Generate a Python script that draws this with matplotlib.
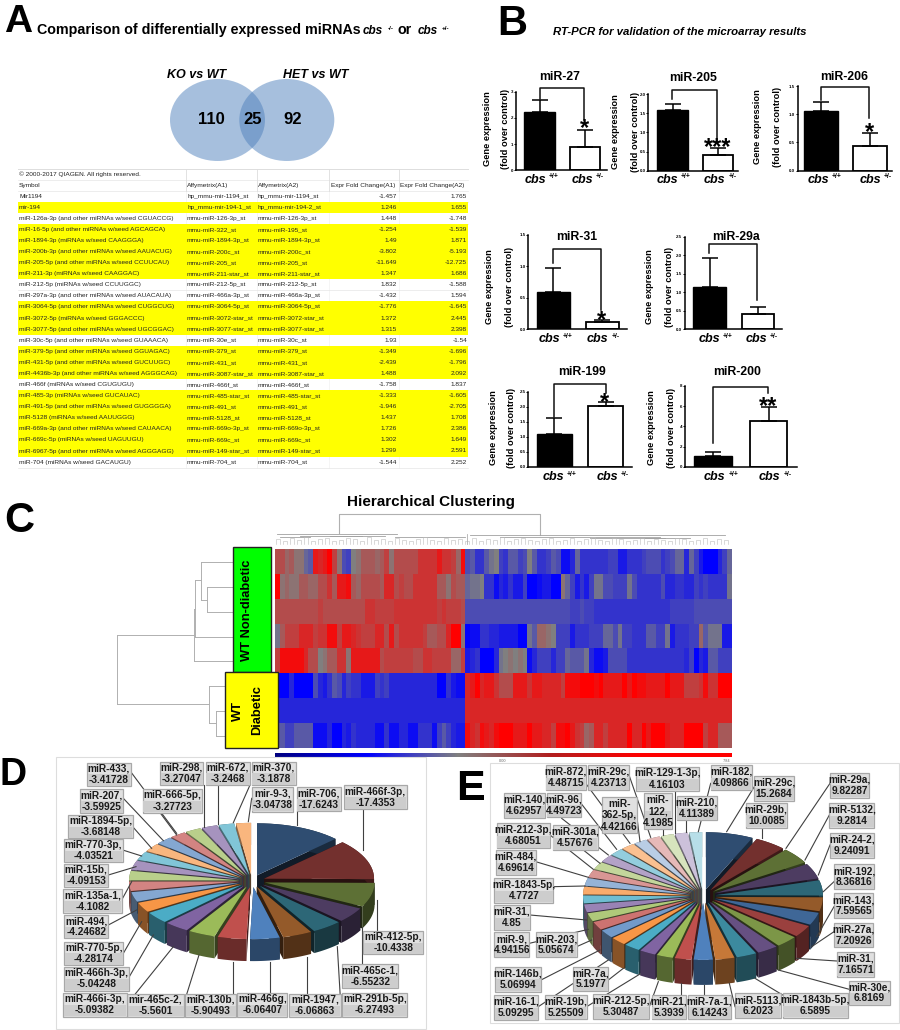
import numpy as np
import matplotlib
matplotlib.use("Agg")
import matplotlib.pyplot as plt
from matplotlib.colors import LinearSegmentedColormap, to_rgb
from matplotlib.patches import Ellipse, Polygon, Rectangle

plt.rcParams['font.family'] = ['Liberation Sans', 'DejaVu Sans']

W, H = 900, 1030

# ---- panel A table
SYMBOLS = ["© 2000-2017 QIAGEN. All rights reserved.", "Symbol", "Mir1194", "mir-194",
           "miR-126a-3p (and other miRNAs w/seed CGUACCG)", "miR-16-5p (and other miRNAs w/seed AGCAGCA)",
           "miR-1894-3p (miRNAs w/seed CAAGGGA)", "miR-200b-3p (and other miRNAs w/seed AAUACUG)",
           "miR-205-5p (and other miRNAs w/seed CCUUCAU)", "miR-211-3p (miRNAs w/seed CAAGGAC)",
           "miR-212-5p (miRNAs w/seed CCUUGGC)", "miR-297a-3p (and other miRNAs w/seed AUACAUA)",
           "miR-3064-5p (and other miRNAs w/seed CUGGCUG)", "miR-3072-5p (miRNAs w/seed GGGACCC)",
           "miR-3077-5p (and other miRNAs w/seed UGCGGAC)", "miR-30c-5p (and other miRNAs w/seed GUAAACA)",
           "miR-379-5p (and other miRNAs w/seed GGUAGAC)", "miR-431-5p (and other miRNAs w/seed GUCUUGC)",
           "miR-4436b-3p (and other miRNAs w/seed AGGGCAG)", "miR-466f (miRNAs w/seed CGUGUGU)",
           "miR-485-3p (miRNAs w/seed GUCAUAC)", "miR-491-5p (and other miRNAs w/seed GUGGGGA)",
           "miR-5128 (miRNAs w/seed AAUUGGG)", "miR-669a-3p (and other miRNAs w/seed CAUAACA)",
           "miR-669c-5p (miRNAs w/seed UAGUUGU)", "miR-6967-5p (and other miRNAs w/seed AGGGAGG)",
           "miR-704 (miRNAs w/seed GACAUGU)"]
PROBE_A1 = ["", "Affymetrix(A1)", "hp_mmu-mir-1194_st", "hp_mmu-mir-194-1_st", "mmu-miR-126-3p_st", "mmu-miR-322_st",
            "mmu-miR-1894-3p_st", "mmu-miR-200c_st", "mmu-miR-205_st", "mmu-miR-211-star_st", "mmu-miR-212-5p_st",
            "mmu-miR-466a-3p_st", "mmu-miR-3064-5p_st", "mmu-miR-3072-star_st", "mmu-miR-3077-star_st", "mmu-miR-30e_st",
            "mmu-miR-379_st", "mmu-miR-431_st", "mmu-miR-3087-star_st", "mmu-miR-466f_st", "mmu-miR-485-star_st",
            "mmu-miR-491_st", "mmu-miR-5128_st", "mmu-miR-669o-3p_st", "mmu-miR-669c_st", "mmu-miR-149-star_st",
            "mmu-miR-704_st"]
PROBE_A2 = ["", "Affymetrix(A2)", "hp_mmu-mir-1194_st", "hp_mmu-mir-194-2_st", "mmu-miR-126-3p_st", "mmu-miR-195_st",
            "mmu-miR-1894-3p_st", "mmu-miR-200c_st", "mmu-miR-205_st", "mmu-miR-211-star_st", "mmu-miR-212-5p_st",
            "mmu-miR-466a-3p_st", "mmu-miR-3064-5p_st", "mmu-miR-3072-star_st", "mmu-miR-3077-star_st", "mmu-miR-30c_st",
            "mmu-miR-379_st", "mmu-miR-431_st", "mmu-miR-3087-star_st", "mmu-miR-466f_st", "mmu-miR-485-star_st",
            "mmu-miR-491_st", "mmu-miR-5128_st", "mmu-miR-669o-3p_st", "mmu-miR-669c_st", "mmu-miR-149-star_st",
            "mmu-miR-704_st"]
FOLD_A1 = ["", "Expr Fold Change(A1)", "-1.457", "1.246", "1.448", "-1.254", "1.49", "-3.802", "-11.649", "1.347", "1.832",
           "-1.432", "-1.776", "1.372", "1.315", "1.93", "-1.349", "-2.439", "1.488", "-1.758", "-1.333", "-1.946", "1.437",
           "1.726", "1.302", "1.299", "-1.544"]
FOLD_A2 = ["", "Expr Fold Change(A2)", "1.765", "1.655", "-1.748", "-1.539", "1.871", "-5.193", "-12.725", "1.686", "-1.588",
           "1.594", "-1.645", "2.445", "2.398", "-1.54", "-1.696", "-1.796", "2.092", "1.837", "-1.605", "-2.705", "1.708",
           "2.386", "1.649", "2.591", "2.252"]
HIGHLIGHTED = [3, 5, 6, 7, 8, 9, 12, 13, 14, 16, 17, 18, 20, 21, 22, 23, 24, 25]

VENN_COUNTS = ["110", "25", "92"]

# ---- panel B bars
PANEL_NAMES = ["miR-27", "miR-205", "miR-206", "miR-31", "miR-29a", "miR-199", "miR-200"]
WT_MEAN = [2.24, 1.60, 1.06, 0.60, 1.15, 1.10, 1.10]
WT_TOP = [2.70, 1.75, 1.22, 0.97, 1.93, 1.64, 1.50]
HET_MEAN = [0.89, 0.40, 0.44, 0.12, 0.41, 2.03, 4.50]
HET_TOP = [1.54, 0.585, 0.67, 0.14, 0.59, 2.17, 5.90]
Y_TICKS = [[0, 1, 2, 3], [0, .5, 1, 1.5, 2], [0, .5, 1, 1.5], [0, .5, 1, 1.5], [0, .5, 1, 1.5, 2, 2.5],
           [0, .5, 1, 1.5, 2, 2.5], [0, 2, 4, 6, 8]]
STARS = ["*", "***", "*", "*", "", "*", "**"]

# ---- panel C heatmap, -10 full blue, 0 grey, 10 full red
HEAT_ROWS = [
    [4,4,2,3,1,1,-2,-3,8,7,8,10,5,1,-4,-5,0,1,3,3,3,2,3,5,1,4,4,4,4,4,6,6,6,6,8,6,6,5,2,9,
     -4,-3,-6,-6,-3,-1,0,-5,-6,-3,-3,-5,-4,0,-3,-6,-6,-5,-3,-4,-9,-9,-7,-2,-6,-6,-6,-6,-6,-6,-5,-5,-8,-8,-6,-6,-6,-5,-4,-4,-4,-6,-5,-4,-2,-2,-7,-2,-5,-8,-10,-10,-10,-7,-5,-2],
    [10,1,2,1,1,3,3,2,2,4,4,6,3,8,8,9,3,2,4,4,4,4,3,7,7,4,5,4,4,6,6,6,6,6,3,3,1,4,3,3,
     -2,-1,-1,0,-6,-6,-9,-7,-8,-6,-8,-8,-5,-10,-10,-9,-8,-8,-10,-10,1,-2,-5,-8,-6,-8,-5,-1,-1,-4,-4,-5,-5,-5,-1,-4,-6,-6,-6,-6,-6,-4,-7,-7,-6,-6,-7,-7,-5,-6,-5,-6,-6,-6,-6,-1],
    [4,4,4,4,4,4,4,4,4,5,4,4,4,4,4,4,4,4,4,6,6,5,5,5,5,6,6,6,6,6,6,6,6,6,5,6,5,5,5,4,
     -4,-4,-4,-4,-4,-4,-4,-4,-4,-4,-4,-4,-4,-4,-4,-4,-4,-4,-4,-4,-4,-4,-5,-5,-4,-5,-5,-6,-6,-6,-6,-6,-6,-6,-6,-6,-6,-6,-6,-6,-6,-6,-6,-5,-5,-5,-5,-5,-4,-4,-4,-4,-4,-4,-4,-4],
    [-1,3,5,5,5,7,7,7,5,6,6,9,9,5,8,8,7,6,5,5,5,7,7,4,8,4,6,6,6,6,6,5,3,3,4,4,7,10,10,1,
     -10,-9,-9,-6,-6,-7,-7,-8,-8,-8,-8,-10,-10,-1,-3,2,2,1,0,-5,-5,-5,-8,-6,-6,-6,-5,-5,-5,-2,-2,-4,-1,-5,-5,-6,-6,-6,-3,-3,-5,-5,-1,-8,-6,-6,-6,-5,-5,2,-3,-1,-1,-1,-8,-8],
    [5,9,9,9,9,9,7,4,4,0,1,3,3,6,6,1,8,8,8,8,8,8,4,5,5,5,5,5,5,4,4,6,6,5,5,5,5,2,2,5,
     -8,-7,-6,-10,-10,-10,-7,-1,0,1,0,1,0,-9,-7,-5,-5,-5,-7,-5,-5,-2,-3,-3,-3,-1,-7,-9,-9,-8,-4,-4,-4,-4,-6,-6,-6,-6,-6,-6,-6,-6,-6,-6,-6,-6,-7,-5,-10,-7,-8,-3,-3,-5,-5,-5],
    [-10,-10,-10,-7,-10,-10,-10,-10,-4,-7,-8,-6,-3,-4,-7,-5,-6,-6,-8,-8,-8,-5,-6,-5,-7,-7,-7,-7,-7,-7,-7,-7,-7,-7,-10,-10,-6,-8,-9,-9,
     7,8,10,7,8,8,6,4,4,4,8,8,8,6,8,8,7,7,7,7,5,9,9,9,10,10,10,9,10,8,8,8,8,10,8,10,9,9,8,8,8,8,10,8,8,8,5,5,5,6,9,6,6,10,10,10],
    [-7,-7,-7,-7,-7,-7,-7,-7,-7,-7,-7,-7,-7,-7,-7,-7,-7,-7,-7,-7,-7,-7,-7,-7,-7,-7,-7,-7,-7,-7,-7,-7,-7,-7,-7,-7,-7,-7,-7,-7,
     7,7,7,7,7,7,7,7,7,7,7,7,7,7,7,7,7,7,7,7,7,7,7,7,7,7,7,7,7,7,7,7,7,7,7,7,7,7,7,7,7,7,7,7,7,7,7,7,7,7,7,7,7,7,7,7],
    [-3,-3,-5,-5,-3,-3,-3,-3,-9,-9,-9,-7,-10,-10,-7,-8,-6,-7,-7,-7,-7,-9,-9,-6,-9,-9,-7,-7,-9,-9,-6,-6,-6,-9,-5,-3,-5,-7,-8,-8,
     9,7,6,9,8,7,9,10,10,10,8,8,8,10,8,8,7,7,5,9,9,10,8,6,5,2,3,7,7,5,7,7,7,7,10,7,7,10,8,10,10,10,8,7,7,7,10,10,10,10,5,7,7,3,3,3],
]
TOP_TREE_HEIGHTS = [539, 541, 538, 540, 537, 541, 539, 538, 541, 540, 538, 539, 541, 537, 540, 539, 541, 538, 540, 541,
                    539, 537, 540, 541, 538, 540, 539, 541, 538, 541, 539, 540, 537, 541, 539, 538, 540, 541, 539, 538,
                    541, 540, 538, 541, 539, 537, 540, 541, 538, 539, 541, 540, 538, 541, 539, 540, 541, 538, 539, 541,
                    540, 538, 541, 539, 540]
BAR_TICK_LABELS = ["0.00", "7.84"]

# ---- panels D and E pies, clockwise from the top
D_NAMES = ["miR-706", "miR-466f-3p", "miR-412-5p", "miR-465c-1", "miR-291b-5p", "miR-1947", "miR-466g", "miR-130b",
           "mir-465c-2", "miR-466i-3p", "miR-466h-3p", "miR-770-5p", "miR-494", "miR-135a-1", "miR-15b", "miR-770-3p",
           "miR-1894-5p", "miR-207", "miR-433", "miR-666-5p", "miR-298", "miR-672", "miR-370", "mir-9-3"]
D_VALUES = [-17.6243, -17.4353, -10.4338, -6.55232, -6.27493, -6.06863, -6.06407, -5.90493, -5.5601, -5.09382, -5.04248,
            -4.28174, -4.24682, -4.1082, -4.09153, -4.03521, -3.68148, -3.59925, -3.41728, -3.27723, -3.27047, -3.2468,
            -3.1878, -3.04738]
E_NAMES = ["miR-29c", "miR-29b", "miR-29a", "miR-5132", "miR-24-2", "miR-192", "miR-143", "miR-27a", "miR-31", "miR-30e",
           "miR-1843b-5p", "miR-5113", "miR-7a-1", "miR-21", "miR-212-5p", "miR-19b", "miR-7a", "miR-16-1", "miR-146b",
           "miR-203", "miR-9", "miR-31", "miR-1843-5p", "miR-484", "miR-212-3p", "miR-140", "miR-301a", "miR-96", "miR-872",
           "miR-\n362-5p", "miR-29c", "miR-\n122", "miR-129-1-3p", "miR-210", "miR-182"]
E_VALUES = [15.2684, 10.0085, 9.82287, 9.2814, 9.24091, 8.36816, 7.59565, 7.20926, 7.16571, 6.8169, 6.5895, 6.2023, 6.14243,
            5.3939, 5.30487, 5.25509, 5.1977, 5.09295, 5.06994, 5.05674, 4.94156, 4.85, 4.7727, 4.69614, 4.68051, 4.62957,
            4.57676, 4.49723, 4.48715, 4.42166, 4.23713, 4.1985, 4.16103, 4.11389, 4.09866]
PIE_BASE = ['#4F81BD', '#C0504D', '#9BBB59', '#8064A2', '#4BACC6', '#F79646']

# layout, pixel coordinates of the picture ---------------------------------
COLS_X = [186, 257, 329, 399]
PANEL_BOX = [(515.7, 606.7, 91.7, 170.3), (648.3, 737.7, 94.3, 170.7), (797.7, 891.7, 86, 170.7), (528.3, 626.7, 235, 329.3),
             (685, 782.3, 236.7, 329.3), (528.3, 632.3, 391.7, 467), (685, 796.7, 385.7, 467)]
BAR_X = [(539.7, 585, 30.5), (672.5, 717.7, 30.3), (821, 870, 33.3), (553.3, 602.2, 33), (709.7, 758, 32.7), (554.2, 605.8, 35),
         (712.8, 768.7, 37.5)]
TITLE_XY = [(560, 77), (693, 78), (844, 77), (577, 237), (736, 237), (582, 372), (737, 372)]
YLABEL_XY = [(487, 506, 129), (615, 635, 132), (757, 778, 127), (490, 510, 287), (650, 670, 287), (493, 512, 428), (652, 671, 428)]
BRACKET = [(539.7, 99, 88.3, 584.3, 120), (672, 99, 90, 717.3, 140), (820.7, 100, 87.3, 869, 118), (552.7, 263.3, 249, 601.3, 310),
           (709.3, 253, 244.3, 757.3, 300), (554, 416.7, 384, 605.7, 393), (712.7, 443, 387.3, 768.3, 393)]
STAR_XY = [(584.3, 124), (718, 143), (869.3, 128), (601.3, 316), (0, 0), (605, 398), (768.3, 402)]
CBS_XY = [(535, 554, 582, 600, 180), (667, 686, 714, 733, 180), (818, 837, 870, 888, 180), (549, 568, 597, 616, 339),
          (709, 728, 756, 774, 339), (553, 572, 607, 625, 477), (714, 734, 769, 788, 477)]

# label box corners and leader lines, in 3x crop coordinates
D_BOX = [(890, 112, 1022, 183), (1032, 105, 1220, 178), (1090, 543, 1270, 613), (1027, 643, 1195, 715), (1027, 728, 1222, 800),
         (867, 733, 1022, 800), (712, 728, 862, 800), (555, 733, 708, 800), (382, 733, 552, 800), (190, 728, 380, 800),
         (192, 650, 388, 722), (192, 575, 370, 645), (192, 495, 325, 565), (190, 418, 365, 488), (192, 342, 325, 410),
         (192, 267, 368, 337), (205, 195, 398, 265), (240, 118, 370, 190), (262, 38, 392, 108), (428, 118, 605, 188),
         (480, 35, 610, 105), (617, 35, 750, 105), (755, 35, 887, 105), (755, 112, 880, 185)]
D_LEAD = [(890, 183, 890, 225), (1088, 178, 1088, 300), (1130, 543, 1130, 450), (1085, 643, 1085, 530), (1022, 760, 1012, 590),
          (920, 733, 920, 620), (810, 728, 810, 635), (698, 733, 698, 635), (560, 733, 597, 615), (405, 733, 520, 590),
          (388, 680, 460, 555), (370, 610, 425, 515), (325, 525, 410, 480), (365, 450, 395, 395), (325, 375, 408, 350),
          (368, 300, 425, 318), (398, 230, 455, 295), (370, 145, 490, 272), (392, 65, 530, 250), (480, 188, 530, 255),
          (612, 105, 612, 232), (655, 105, 655, 222), (750, 105, 700, 218), (755, 145, 745, 215)]
E_BOX = [(943, 78, 1062, 152), (917, 158, 1040, 233), (1170, 68, 1287, 143), (1168, 160, 1303, 233), (1170, 250, 1303, 323),
         (1182, 342, 1303, 418), (1182, 430, 1300, 505), (1182, 518, 1300, 592), (1190, 605, 1303, 680), (1228, 692, 1350, 765),
         (1028, 730, 1225, 803), (885, 730, 1022, 805), (745, 735, 873, 808), (635, 735, 738, 808), (460, 733, 628, 808),
         (315, 735, 440, 808), (400, 650, 505, 723), (163, 735, 295, 810), (165, 650, 303, 725), (288, 547, 410, 622),
         (163, 547, 268, 622), (163, 465, 270, 540), (163, 385, 340, 458), (168, 300, 287, 375), (170, 220, 330, 295),
         (192, 128, 315, 205), (338, 225, 473, 300), (320, 128, 423, 202), (317, 45, 437, 120), (487, 142, 590, 250),
         (445, 45, 567, 120), (612, 130, 695, 238), (588, 52, 778, 122), (710, 138, 832, 210), (812, 45, 935, 120)]
E_LEAD = [(943, 110, 860, 245), (965, 233, 965, 265), (1170, 100, 1038, 295), (1168, 195, 1095, 330), (1170, 285, 1135, 375),
          (1182, 395, 1150, 425), (1182, 470, 1130, 560), (1182, 545, 1115, 590), (1190, 633, 1070, 625), (1228, 718, 1015, 660),
          (1028, 735, 945, 685), (885, 770, 868, 700), (792, 735, 792, 705), (722, 735, 722, 700), (628, 770, 655, 695),
          (440, 770, 600, 672), (505, 690, 550, 655), (295, 770, 505, 630), (303, 690, 480, 600), (410, 590, 455, 570),
          (268, 580, 445, 538), (270, 495, 440, 510), (340, 410, 435, 408), (287, 335, 445, 382), (330, 255, 460, 358),
          (365, 205, 505, 315), (430, 300, 480, 340), (423, 160, 530, 298), (437, 100, 570, 280), (590, 195, 600, 275),
          (567, 75, 632, 262), (668, 238, 668, 255), (705, 122, 705, 250), (738, 210, 738, 245), (812, 100, 775, 245)]


def mix(colour, other, amount):
    rgb = np.array(to_rgb(colour))
    return tuple(rgb + (np.array(other) - rgb) * amount)


def tier_colour(i, tier_steps):
    step = tier_steps[min(i // 6, len(tier_steps) - 1)]
    base = PIE_BASE[i % 6]
    return mix(base, (0, 0, 0), -step) if step < 0 else mix(base, (1, 1, 1), step)


def draw_pie(ax, values, cx, cy, rx, ry, depth, explode, tier_steps):
    sizes = np.abs(values)
    edges = np.concatenate([[0], np.cumsum(sizes)]) / sizes.sum() * 2 * np.pi
    slices = []
    for i in range(len(sizes)):
        a = np.linspace(edges[i], edges[i + 1], 14)
        mid = (edges[i] + edges[i + 1]) / 2
        ox, oy = cx + explode * np.sin(mid), cy - explode * ry / rx * np.cos(mid)
        arc = np.column_stack([ox + rx * np.sin(a), oy - ry * np.cos(a)])
        slices.append((oy - ry * np.cos(mid) * .5, i, np.array([ox, oy]), arc))
    down = np.array([0, depth])
    for _, i, tip, arc in sorted(slices, key=lambda s: s[0]):
        top = tier_colour(i, tier_steps)
        wall = mix(top, (0, 0, 0), .45)
        cut = mix(top, (0, 0, 0), .65)
        # two cut faces, then the outer rim, then the top
        for end in (arc[0], arc[-1]):
            ax.add_patch(Polygon([tip, end, end + down, tip + down], fc=cut, ec='none', zorder=3))
        rim = np.vstack([arc, (arc + down)[::-1]])
        ax.add_patch(Polygon(rim, fc=wall, ec='none', zorder=3))
        ax.add_patch(Polygon(np.vstack([tip, arc]), fc=top, ec='none', zorder=3))


def draw_labels(ax, names, values, boxes, leads, off_x, off_y):
    for lead in leads:
        ax.plot([lead[0] / 3 + off_x, lead[2] / 3 + off_x], [lead[1] / 3 + off_y, lead[3] / 3 + off_y],
                color='#404040', lw=.8, zorder=4)
    # boxes go on top of every leader line
    for name, value, box in zip(names, values, boxes):
        x0, y0, x1, y1 = box[0] / 3 + off_x, box[1] / 3 + off_y, box[2] / 3 + off_x, box[3] / 3 + off_y
        ax.add_patch(Rectangle((x0, y0), x1 - x0, y1 - y0, fc='#e0e0e0', ec='#a8a8a8', lw=.9, zorder=5))
        ax.add_patch(Rectangle((x0 + .5, (y0 + y1) / 2), x1 - x0 - 1, (y1 - y0) / 2 - .5, fc='#cdcdcd', ec='none', zorder=5))
        ax.text((x0 + x1) / 2, (y0 + y1) / 2, f"{name},\n{value}", ha='center', va='center', fontsize=7.3,
                fontweight='bold', color='#1a1a1a', zorder=6, linespacing=1.15)


fig = plt.figure(figsize=(W / 100, H / 100), dpi=100)


def px_axes(x0, x1, y0, y1, **kw):
    return fig.add_axes([x0 / W, 1 - y1 / H, (x1 - x0) / W, (y1 - y0) / H], **kw)


over = fig.add_axes([0, 0, 1, 1], zorder=5)
over.set_xlim(0, W)
over.set_ylim(H, 0)
over.axis('off')

# panel letters and headings
over.text(4, 32, "A", fontsize=28, fontweight='bold', va='baseline')
over.text(37, 34, "Comparison of differentially expressed miRNAs", fontsize=10.3, fontweight='bold', va='baseline')
over.text(363, 34, "cbs", fontsize=8.5, fontweight='bold', style='italic', va='baseline')
over.text(388, 30, "-/-", fontsize=4.5, fontweight='bold', va='baseline')
over.text(398, 34, "or", fontsize=10.3, fontweight='bold', va='baseline')
over.text(418, 34, "cbs", fontsize=8.5, fontweight='bold', style='italic', va='baseline')
over.text(442, 30, "+/-", fontsize=4.5, fontweight='bold', va='baseline')
over.text(497, 35, "B", fontsize=30, fontweight='bold', va='baseline')
over.text(553, 35, "RT-PCR for validation of the microarray results", fontsize=8.2, fontweight='bold', style='italic', va='baseline')
over.text(4, 532, "C", fontsize=30, fontweight='bold', va='baseline')
over.text(0, 785, "D", fontsize=27, fontweight='bold', va='baseline')
over.text(456, 800, "E", fontsize=31, fontweight='bold', va='baseline')

# venn
for cx in (217.5, 286.8):
    over.add_patch(Ellipse((cx, 120), 95, 82, fc='#4F81BD', alpha=.5, ec='none'))
over.text(197, 75, "KO vs WT", fontsize=9, style='italic', ha='center', va='center', fontweight='bold')
over.text(316, 75, "HET vs WT", fontsize=9, style='italic', ha='center', va='center', fontweight='bold')
for label, x in zip(VENN_COUNTS, (211, 253, 293)):
    over.text(x, 119.5, label, fontsize=12, fontweight='bold', ha='center', va='center')

# table
row_h = 11.08
tfs = 4.65
for r in range(len(SYMBOLS)):
    yc = 174 + r * row_h
    if r in HIGHLIGHTED:
        over.add_patch(Rectangle((18, yc - row_h / 2), 450, row_h, fc='#FFFF00', ec='none', zorder=1))
    else:
        over.plot([18, 468], [yc + row_h / 2] * 2, color='#e6e6e6', lw=.5, zorder=1)
    over.text(19, yc, SYMBOLS[r], fontsize=tfs, va='center', color='#222222', zorder=2)
    over.text(187, yc, PROBE_A1[r], fontsize=tfs, va='center', color='#222222', zorder=2)
    over.text(258, yc, PROBE_A2[r], fontsize=tfs, va='center', color='#222222', zorder=2)
    if r == 1:
        over.text(331, yc, FOLD_A1[r], fontsize=tfs, va='center', color='#222222', zorder=2)
        over.text(400, yc, FOLD_A2[r], fontsize=tfs, va='center', color='#222222', zorder=2)
    else:
        over.text(397, yc, FOLD_A1[r], fontsize=tfs, va='center', ha='right', color='#222222', zorder=2)
        over.text(467, yc, FOLD_A2[r], fontsize=tfs, va='center', ha='right', color='#222222', zorder=2)
over.plot([18, 468], [168.5, 168.5], color='#dddddd', lw=.7, zorder=1)
for x in COLS_X:
    over.plot([x, x], [168.5, 179.5 + row_h], color='#dddddd', lw=.6, zorder=1)
    over.plot([x, x], [179.5 + row_h, 467.5], color='#eeeeee', lw=.4, zorder=0)

over.text(431, 502, "Hierarchical Clustering", fontsize=11, fontweight='bold', ha='center', va='center')

# bars
for i, name in enumerate(PANEL_NAMES):
    x0, x1, y0, y1 = PANEL_BOX[i]
    a = px_axes(x0, x1, y0, y1)
    a.patch.set_alpha(0)
    a.set_xlim(x0, x1)
    a.set_ylim(0, Y_TICKS[i][-1])
    c1, c2, bw = BAR_X[i]
    a.bar([c1], [WT_MEAN[i]], width=bw, color='black', edgecolor='black')
    a.bar([c2], [HET_MEAN[i]], width=bw, color='white', edgecolor='black', linewidth=1.3)
    a.errorbar([c1, c2], [WT_MEAN[i], HET_MEAN[i]],
               yerr=[[0, 0], [WT_TOP[i] - WT_MEAN[i], HET_TOP[i] - HET_MEAN[i]]],
               fmt='none', ecolor='black', elinewidth=1.1, capsize=5.6, capthick=1.1)
    a.spines['top'].set_visible(False)
    a.spines['right'].set_visible(False)
    a.spines['left'].set_linewidth(1.1)
    a.spines['bottom'].set_linewidth(1.1)
    a.set_xticks([])
    a.set_yticks(Y_TICKS[i])
    if Y_TICKS[i][-1] in (3, 8):
        a.set_yticklabels([str(int(t)) for t in Y_TICKS[i]])
    else:
        a.set_yticklabels([f"{t:.1f}" for t in Y_TICKS[i]])
    a.tick_params(axis='y', length=1.5, width=.7, pad=.6, labelsize=3.2)
    for t in a.get_yticklabels():
        t.set_fontweight('bold')

    over.text(*TITLE_XY[i], name, fontsize=8.8, fontweight='bold', ha='center', va='center')
    lx1, lx2, ly = YLABEL_XY[i]
    over.text(lx1, ly, "Gene expression", fontsize=6.7, fontweight='bold', rotation=90, ha='center', va='center')
    over.text(lx2, ly, "(fold over control)", fontsize=6.7, fontweight='bold', rotation=90, ha='center', va='center')
    bx1, by1, bt, bx2, by2 = BRACKET[i]
    over.plot([bx1, bx1, bx2, bx2], [by1, bt, bt, by2], color='#111111', lw=1.1)
    if STARS[i]:
        over.text(STAR_XY[i][0], STAR_XY[i][1] + 5, STARS[i], fontsize=17, fontweight='bold', ha='center', va='center')
    t1, s1, t2, s2, ty = CBS_XY[i]
    over.text(t1, ty, "cbs", fontsize=9, fontweight='bold', style='italic', ha='center', va='center')
    over.text(s1, ty - 3, "+/+", fontsize=4.8, fontweight='bold', ha='center', va='center')
    over.text(t2, ty, "cbs", fontsize=9, fontweight='bold', style='italic', ha='center', va='center')
    over.text(s2, ty - 3, "+/-", fontsize=4.8, fontweight='bold', ha='center', va='center')

# heatmap
heat_cmap = LinearSegmentedColormap.from_list('heat', ['#0000FF', '#808080', '#FF0000'])
heat = px_axes(275, 732, 549.3, 747.7, zorder=1)
heat.imshow(np.array(HEAT_ROWS), cmap=heat_cmap, vmin=-10, vmax=10, aspect='auto', interpolation='nearest')
heat.axis('off')
bar_cmap = LinearSegmentedColormap.from_list('bar', ['#000080', '#0000FF', '#808080', '#B02020', '#FF0000', '#FF0000'])
cbar = px_axes(275, 732, 753, 757, zorder=1)
cbar.imshow(np.linspace(0, 1, 256)[None, :], cmap=bar_cmap, aspect='auto')
cbar.axis('off')
over.text(503, 760.5, BAR_TICK_LABELS[0], fontsize=2.8, color='#666666', ha='center', va='center')
over.text(727, 760.5, BAR_TICK_LABELS[1], fontsize=2.8, color='#666666', ha='center', va='center')

# side dendrogram, crop coordinates x/2.05 and y/3+485
tree = '#b0b0b0'
for xs, ys in [((117, 117), (635, 704)), ((117, 194), (635, 635)), ((117, 209), (704, 704)), ((194, 194), (609, 661)),
               ((194, 233), (661, 661)), ((195, 195), (580, 637)), ((195, 233), (637, 637)), ((194, 195), (609, 609)),
               ((195, 201), (580, 580)), ((201, 201), (562, 600)), ((201, 233), (562, 562)), ((201, 207), (600, 600)),
               ((207, 207), (587, 612)), ((207, 233), (587, 587)), ((207, 233), (612, 612)), ((209, 209), (686, 723)),
               ((209, 225), (686, 686)), ((209, 216), (723, 723)), ((216, 216), (711, 736)), ((216, 225), (711, 711)),
               ((216, 225), (736, 736))]:
    over.plot(xs, ys, color=tree, lw=.7, zorder=0)

# top dendrogram
over.plot([339, 339, 540, 540], [533, 514, 514, 535], color=tree, lw=.8, zorder=0)
for xs, y in [((277, 397), 534), ((470, 725), 535), ((300, 385), 536), ((330, 362), 535.5), ((500, 660), 537), ((590, 690), 538),
              ((640, 665), 537.5), ((395, 465), 537), ((280, 310), 537)]:
    over.plot(xs, [y, y], color='#a0a0a0', lw=.6, zorder=0)
for k, top in enumerate(TOP_TREE_HEIGHTS):
    x = 276 + k * 7
    over.plot([x, x, x + 4, x + 4], [544, top, top, 544], color='#bcbcbc', lw=.4, zorder=0)
over.plot([466.5, 466.5], [534, 544], color=tree, lw=.6, zorder=0)

# green and yellow group labels
over.add_patch(Rectangle((233, 547), 38, 125, fc='#00FF00', ec='#222222', lw=1, zorder=3))
over.add_patch(Rectangle((225, 672), 53, 76, fc='#FFFF00', ec='#222222', lw=1, zorder=3))
over.text(247, 610, "WT Non-diabetic", fontsize=9.3, fontweight='bold', rotation=90, ha='center', va='center', zorder=4)
over.text(237.5, 711, "WT", fontsize=9.3, fontweight='bold', rotation=90, ha='center', va='center', zorder=4)
over.text(257, 710, "Diabetic", fontsize=9.3, fontweight='bold', rotation=90, ha='center', va='center', zorder=4)

# pies
over.add_patch(Rectangle((56, 757), 370, 272, fc='white', ec='#dddddd', lw=.8, zorder=0))
over.add_patch(Rectangle((490, 763), 409, 260, fc='white', ec='#dddddd', lw=.8, zorder=0))
draw_pie(over, D_VALUES, 252, 881, 110, 52, 22, 13, (-.4, 0, .3))
draw_labels(over, D_NAMES, D_VALUES, D_BOX, D_LEAD, 0, 750)
draw_pie(over, E_VALUES, 703, 896, 107, 57, 25, 13, (-.4, -.2, 0, .2, .4, .6))
draw_labels(over, E_NAMES, E_VALUES, E_BOX, E_LEAD, 440, 750)

fig.savefig('out.png', dpi=100)
